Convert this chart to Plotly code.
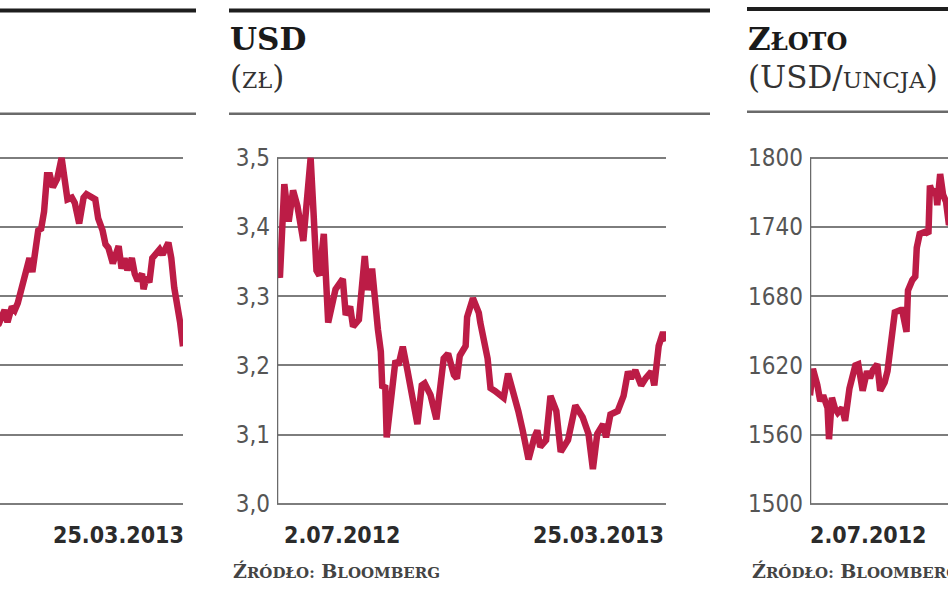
import plotly.graph_objects as go

W, H = 948, 593

# ---------------- data ----------------
# day offsets from 2.07.2012 (25.03.2013 = day 266)
left_days = [137, 140, 144, 146, 149, 151, 153, 156, 159, 161, 163, 165, 167, 169, 171, 173, 175, 177, 180, 183,
             185, 187, 190, 192, 195, 198, 200, 204, 206, 208, 211, 213, 215, 218, 220, 222, 224, 226, 228, 231,
             233, 235, 238, 239, 241, 243, 245, 248, 250, 252, 255, 256, 258, 260, 264, 266]
left_vals = [1.302, 1.304, 1.312, 1.305, 1.314, 1.312, 1.316, 1.325, 1.336, 1.342, 1.334, 1.346, 1.358, 1.359,
             1.369, 1.390, 1.390, 1.383, 1.388, 1.400, 1.386, 1.376, 1.377, 1.374, 1.362, 1.377, 1.379, 1.377,
             1.376, 1.365, 1.358, 1.350, 1.348, 1.339, 1.346, 1.349, 1.336, 1.342, 1.335, 1.342, 1.333, 1.329,
             1.333, 1.324, 1.331, 1.328, 1.342, 1.345, 1.347, 1.344, 1.349, 1.351, 1.342, 1.325, 1.305, 1.291]

usd_days = [0, 2, 5, 8, 11, 14, 18, 20, 23, 25, 27, 29, 32, 35, 40, 45, 47, 50, 52, 56,
            60, 62, 65, 69, 71, 72, 74, 75, 79, 81, 83, 86, 89, 96, 99, 101, 105, 109, 114, 117,
            121, 123, 125, 129, 130, 134, 138, 139, 144, 146, 149, 153, 155, 158, 161, 165, 168, 172, 176, 178,
            180, 184, 187, 191, 194, 199, 204, 209, 213, 216, 219, 223, 225, 228, 233, 237, 240, 242, 245, 249,
            252, 256, 258, 261, 264, 266]
usd_vals = [3.345, 3.327, 3.462, 3.408, 3.453, 3.430, 3.380, 3.420, 3.500, 3.420, 3.337, 3.330, 3.390, 3.262,
            3.310, 3.325, 3.273, 3.285, 3.256, 3.266, 3.358, 3.309, 3.340, 3.252, 3.220, 3.167, 3.171, 3.096,
            3.167, 3.207, 3.200, 3.227, 3.195, 3.115, 3.171, 3.174, 3.157, 3.122, 3.210, 3.217, 3.186, 3.181,
            3.214, 3.228, 3.270, 3.297, 3.276, 3.262, 3.210, 3.167, 3.163, 3.157, 3.153, 3.188, 3.167, 3.134,
            3.106, 3.064, 3.096, 3.106, 3.082, 3.092, 3.156, 3.134, 3.075, 3.092, 3.142, 3.125, 3.101, 3.050,
            3.101, 3.115, 3.096, 3.129, 3.134, 3.156, 3.191, 3.181, 3.193, 3.171, 3.181, 3.191, 3.171, 3.228,
            3.248, 3.235]

gold_days = [0, 2, 5, 7, 9, 12, 13, 15, 17, 19, 22, 24, 27, 31, 33, 36, 39, 41, 43, 46,
             48, 51, 53, 56, 58, 62, 63, 66, 67, 70, 72, 73, 75, 79, 81, 82, 84, 86, 87, 89,
             91, 93, 95, 97]
gold_vals = [1594, 1617, 1603, 1589, 1594, 1583, 1556, 1592, 1583, 1579, 1583, 1572, 1600, 1620, 1621, 1598,
             1615, 1609, 1616, 1621, 1598, 1605, 1615, 1640, 1666, 1668, 1668, 1649, 1685, 1694, 1697, 1722,
             1734, 1736, 1734, 1776, 1768, 1773, 1759, 1786, 1768, 1762, 1742, 1745]

usd_ticks = [3.0, 3.1, 3.2, 3.3, 3.4, 3.5]
usd_ticktext = ["3,0", "3,1", "3,2", "3,3", "3,4", "3,5"]
gold_ticks = [1500, 1560, 1620, 1680, 1740, 1800]
gold_ticktext = ["1500", "1560", "1620", "1680", "1740", "1800"]
left_ticks = [1.20, 1.24, 1.28, 1.32, 1.36, 1.40]

date_start = "2.07.2012"
date_end = "25.03.2013"
source_text = "Ź<span style='font-size:15px'>RÓDŁO:</span> B<span style='font-size:15px'>LOOMBERG</span>"

# ---------------- layout helpers ----------------
LINE = "#BC1C46"
GRID = "#7d7d7d"
TICKFONT = dict(family="DejaVu Sans Condensed, DejaVu Sans", size=24, color="#555555")
DATEFONT = dict(family="DejaVu Sans Condensed, DejaVu Sans", size=23, color="#2b2b2b", weight="bold")
SERIF = "DejaVu Serif, Liberation Serif"

TOP_PX, BOT_PX, PAD = 155, 508, 8


def px(x):
    return x / W


def py(y):
    return 1 - y / H


def yaxis_for(lo, hi, ticks, ticktext=None, show=True, anchor="x"):
    span = hi - lo
    ext = PAD / (BOT_PX - TOP_PX) * span
    d = dict(domain=[py(BOT_PX + PAD), py(TOP_PX - PAD)], range=[lo - ext, hi + ext],
             tickmode="array", tickvals=ticks, showgrid=True, gridcolor=GRID, gridwidth=2,
             zeroline=False, showline=False, ticks="", showticklabels=show, tickfont=TICKFONT,
             ticklabelstandoff=6, anchor=anchor, fixedrange=True)
    if ticktext is not None:
        d["ticktext"] = ticktext
    return d


def xaxis_for(x0px, x1px, rng, anchor):
    return dict(domain=[px(x0px), px(x1px)], range=rng, showgrid=False, zeroline=False,
                showline=False, showticklabels=False, ticks="", anchor=anchor, fixedrange=True)


LW = 6.5
fig = go.Figure()
fig.add_trace(go.Scatter(x=left_days, y=left_vals, mode="lines", xaxis="x", yaxis="y",
                         line=dict(color=LINE, width=LW), hoverinfo="skip"))
fig.add_trace(go.Scatter(x=usd_days, y=usd_vals, mode="lines", xaxis="x2", yaxis="y2",
                         line=dict(color=LINE, width=LW), hoverinfo="skip"))
fig.add_trace(go.Scatter(x=gold_days, y=gold_vals, mode="lines", xaxis="x3", yaxis="y3",
                         line=dict(color=LINE, width=LW), hoverinfo="skip"))

SPAN_DAYS = 266
PLOT_W = 389
left_start = SPAN_DAYS - 183 / PLOT_W * SPAN_DAYS
gold_end = (W - 810) / PLOT_W * SPAN_DAYS

shapes = []
# rules (top thick, thin below the titles)
for (a, b, ytop, ythin) in [(0, 196, 4.5, 110), (229, 710, 4.5, 110), (747, 948, 3, 108)]:
    shapes.append(dict(type="line", xref="paper", yref="paper", x0=px(a), x1=px(b), y0=py(ytop), y1=py(ytop),
                       line=dict(color="#1e1e1e", width=4)))
    shapes.append(dict(type="line", xref="paper", yref="paper", x0=px(a), x1=px(b), y0=py(ythin), y1=py(ythin),
                       line=dict(color="#6a6a6a", width=2.5)))
# vertical axis lines
shapes.append(dict(type="line", xref="x2", yref="y2", x0=0, x1=0, y0=3.0, y1=3.5,
                   line=dict(color="#6a6a6a", width=2.5)))
shapes.append(dict(type="line", xref="x3", yref="y3", x0=0, x1=0, y0=1500, y1=1800,
                   line=dict(color="#6a6a6a", width=2.5)))

ann = []
# middle titles
ann.append(dict(text="USD", x=px(228), y=py(34), xref="paper", yref="paper", xanchor="left", yanchor="middle",
                showarrow=False, font=dict(family=SERIF, size=31, color="#1a1a1a", weight="bold")))
ann.append(dict(text="(<span style='font-size:22px'>ZŁ</span>)", x=px(228), y=py(72), xref="paper",
                yref="paper", xanchor="left", yanchor="middle", showarrow=False,
                font=dict(family=SERIF, size=31, color="#333333")))
# right titles
ann.append(dict(text="Z<span style='font-size:24px'>ŁOTO</span>", x=px(746), y=py(34), xref="paper",
                yref="paper", xanchor="left", yanchor="middle", showarrow=False,
                font=dict(family=SERIF, size=31, color="#1a1a1a", weight="bold")))
ann.append(dict(text="(USD/<span style='font-size:23px'>UNCJA</span>)", x=px(746), y=py(72), xref="paper",
                yref="paper", xanchor="left", yanchor="middle", showarrow=False,
                font=dict(family=SERIF, size=31, color="#333333")))
# date labels
ann.append(dict(text=date_end, x=px(186), y=py(540), xref="paper", yref="paper", xanchor="right",
                yanchor="middle", showarrow=False, font=DATEFONT))
ann.append(dict(text=date_start, x=px(282), y=py(540), xref="paper", yref="paper", xanchor="left",
                yanchor="middle", showarrow=False, font=DATEFONT))
ann.append(dict(text=date_end, x=px(666), y=py(540), xref="paper", yref="paper", xanchor="right",
                yanchor="middle", showarrow=False, font=DATEFONT))
ann.append(dict(text=date_start, x=px(808), y=py(540), xref="paper", yref="paper", xanchor="left",
                yanchor="middle", showarrow=False, font=DATEFONT))
# sources
for xs in (231, 750):
    ann.append(dict(text=source_text, x=px(xs), y=py(577), xref="paper", yref="paper", xanchor="left",
                    yanchor="middle", showarrow=False,
                    font=dict(family=SERIF, size=19, color="#444444", weight="bold")))

fig.update_layout(
    width=W, height=H, margin=dict(l=0, r=0, t=0, b=0),
    paper_bgcolor="white", plot_bgcolor="white", showlegend=False,
    xaxis=xaxis_for(0, 183, [left_start, SPAN_DAYS], "y"),
    yaxis=yaxis_for(1.20, 1.40, left_ticks, show=False, anchor="x"),
    xaxis2=xaxis_for(277, 666, [0, SPAN_DAYS], "y2"),
    yaxis2=yaxis_for(3.0, 3.5, usd_ticks, usd_ticktext, anchor="x2"),
    xaxis3=xaxis_for(810, 948, [0, gold_end], "y3"),
    yaxis3=yaxis_for(1500, 1800, gold_ticks, gold_ticktext, anchor="x3"),
    shapes=shapes, annotations=ann,
)

fig.write_html("out.html", config={"displayModeBar": False},
               post_script="document.body.style.margin='0px';document.body.style.overflow='hidden';")
